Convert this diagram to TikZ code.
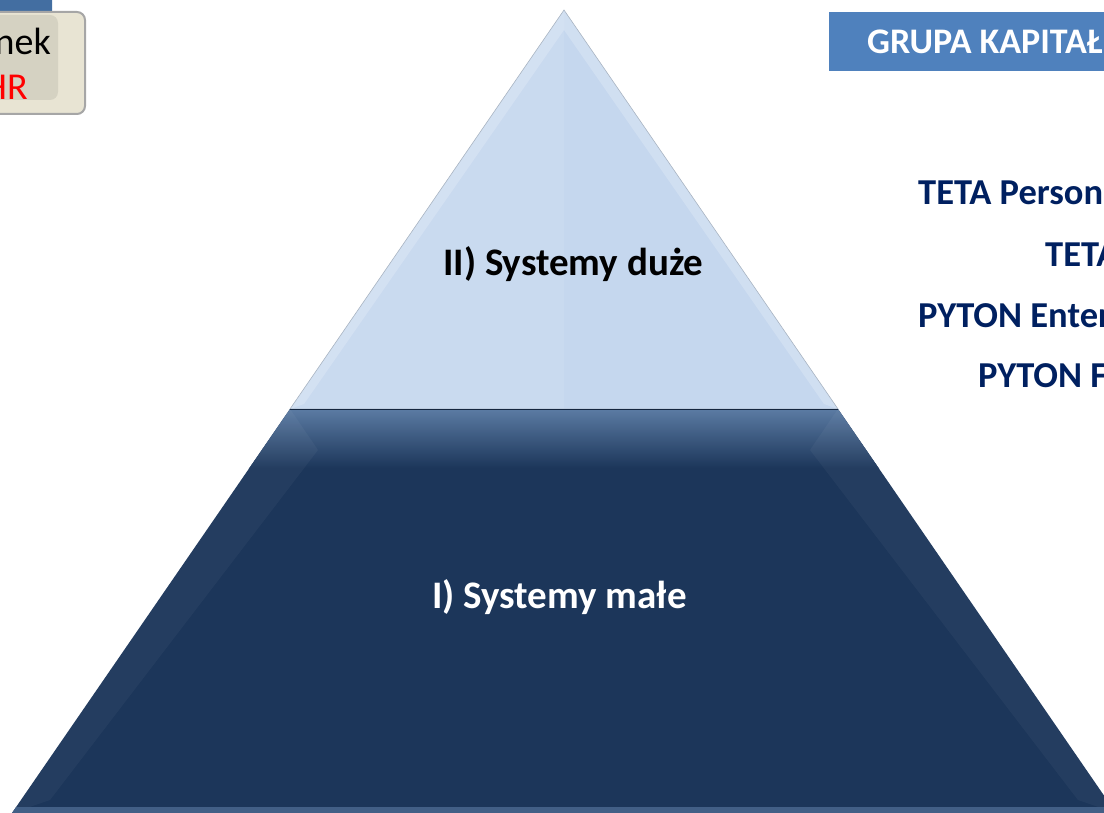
\documentclass[tikz,border=0pt]{standalone}
\usepackage{fontspec}
\setmainfont{Carlito}
\definecolor{topblue}{HTML}{C5D7EE}
\definecolor{navy}{HTML}{1C365A}
\definecolor{bevel}{HTML}{5B7BA3}
\definecolor{titleblue}{HTML}{4F81BD}
\definecolor{textnavy}{HTML}{002060}
\definecolor{beige}{HTML}{E8E4D3}
\begin{document}
\begin{tikzpicture}
		[x=1pt,y=-1pt,
		levellabel/.style={font=\fontsize{39}{47}\selectfont\bfseries,
			anchor=base west, inner sep=0pt},
		entry/.style={font=\fontsize{36.5}{44}\selectfont\bfseries,
			text=textnavy, anchor=base west, inner sep=0pt}]
		\useasboundingbox (0,0) rectangle (1104,813);
		% pyramid corners
		\coordinate (apex) at (564,10);
		\coordinate (midL) at (290,409);
		\coordinate (midR) at (838,409);
		\coordinate (baseL) at (12,813);
		\coordinate (baseR) at (1116,813);
		% upper level
		\fill[topblue] (apex) -- (midR) -- (midL) -- cycle;
		\fill[white,opacity=.2] (apex) -- (564,30) -- (304,404) -- (midL) -- cycle;
		\fill[white,opacity=.2] (apex) -- (564,30) -- (824,404) -- (midR) -- cycle;
		\fill[white,opacity=.08] (apex) -- (564,409) -- (midL) -- cycle;
		\draw[topblue!60!gray,line width=.6pt] (apex) -- (midR) -- (midL) -- cycle;
		% lower level
		\fill[navy] (midL) -- (midR) -- (baseR) -- (baseL) -- cycle;
		\begin{scope}
			\clip (midL) -- (midR) -- (baseR) -- (baseL) -- cycle;
			\shade[top color=bevel,bottom color=navy] (0,409) rectangle (1104,468);
			\fill[white,opacity=.04] (midL) -- (318,450) -- (50,800) -- (baseL) -- cycle;
			\fill[white,opacity=.04] (midR) -- (810,450) -- (1078,800) -- (baseR) -- cycle;
			\fill[bevel!60!navy] (0,807) rectangle (1104,813);
		\end{scope}
		\draw[navy!70!black,line width=1pt] (midL) -- (midR);
		\node[levellabel] (duze) at (443,276) {II) Systemy duże};
		\node[levellabel,text=white] (male) at (432,608) {I) Systemy małe};
		% box in the corner
		\fill[rounded corners=6pt,titleblue!85!black] (-20,-8) rectangle (52,20);
		\draw[rounded corners=8pt,fill=beige,draw=gray!70,line width=2pt] (-20,12) rectangle (85,114);
		\fill[rounded corners=8pt,black,opacity=.08] (-20,15) rectangle (58,100);
		\node[font=\fontsize{38}{46}\selectfont,anchor=base east,inner sep=0pt] (rynek) at (51,55) {nek};
		\node[font=\fontsize{38}{46}\selectfont,text=red,anchor=base east,inner sep=0pt] (hr) at (28,100) {HR};
		% title bar
		\fill[titleblue] (829,12) rectangle (1110,71);
		\node[font=\fontsize{36}{43}\selectfont\bfseries,text=white,anchor=base west,inner sep=0pt] (grupa) at (867,54) {GRUPA KAPITAŁ};
		\node[entry] (tetaPerson) at (918,205) {TETA Person};
		\node[entry] (teta) at (1045,267) {TETA};
		\node[entry] (pytonEnter) at (918,327) {PYTON Enter};
		\node[entry] (pytonF) at (978,387) {PYTON F};
	\end{tikzpicture}
\end{document}
